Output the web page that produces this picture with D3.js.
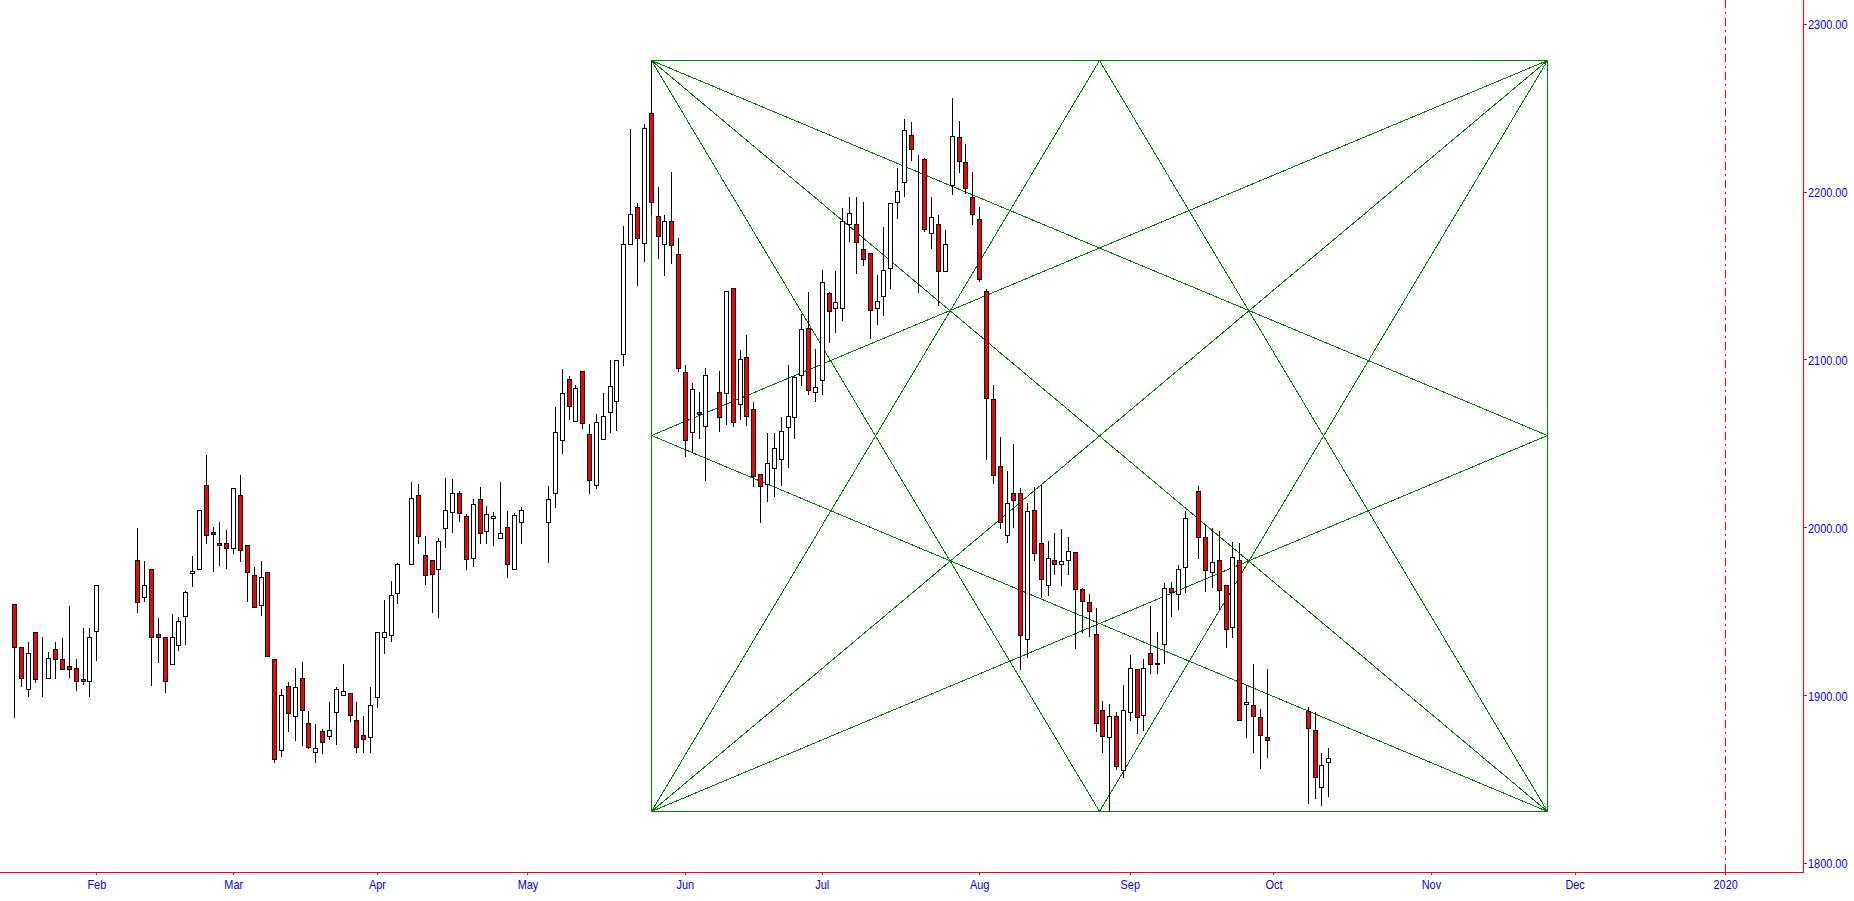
<!DOCTYPE html>
<html>
<head>
<meta charset="utf-8">
<script src="https://cdn.jsdelivr.net/npm/d3@7"></script>
<style>
  html, body { margin: 0; padding: 0; background: #fff; overflow: hidden; }
  svg text { font-family: "Liberation Sans", Arial, sans-serif; font-size: 13px; fill: #0000ff; }
</style>
</head>
<body>
<script>
// trading calendar
var firstDay = "2019-01-16", lastDay = "2019-10-11";
var holidays = ["2019-02-04", "2019-02-05", "2019-02-06", "2019-02-07", "2019-02-08",
  "2019-04-05", "2019-05-01", "2019-05-02", "2019-05-03", "2019-06-07", "2019-09-13",
  "2019-10-01", "2019-10-02", "2019-10-03", "2019-10-04", "2019-10-07"];

// daily prices, one entry per trading day
var open = [1954.1,1928.5,1903.5,1937.4,1903.5,1910.0,1927.3,1921.3,1917.2,1916.0,1909.4,1908.2,1938.0,
  1980.3,1958.3,1975.0,1936.2,1934.4,1918.4,1929.7,1947.0,1973.0,1975.0,2025.0,1997.0,1990.4,1990.4,
  1987.5,2019.0,1989.3,1971.4,1953.5,1973.2,1921.3,1867.1,1905.3,1887.4,1910.0,1883.2,1865.9,1878.4,
  1875.5,1889.8,1899.9,1901.1,1885.0,1876.1,1874.9,1898.7,1934.4,1935.6,1960.7,
  1978.0,2019.0,1983.3,1980.3,1975.0,1999.4,2008.9,2020.2,2006.5,1981.5,2016.7,1997.6,2005.3,1993.4,
  2000.0,1975.0,2003.0,
  2003.0,2020.2,2051.8,2088.2,2063.1,2092.9,2055.4,2025.0,2052.4,2068.5,2075.1,2103.1,2168.6,2190.6,
  2169.2,2246.6,2185.3,2168.6,2182.3,2162.6,2092.4,2056.6,2068.5,2060.2,
  2080.4,2079.8,2142.4,2073.3,2101.3,2070.3,2031.6,2025.6,2035.2,2040.5,2059.6,2065.5,2090.5,2118.5,
  2080.4,2087.6,2139.4,2130.5,2130.5,2180.5,2180.5,2165.6,2163.2,2130.5,2137.6,2154.3,2193.6,2205.5,
  2233.5,2219.2,2219.2,2175.1,2180.5,2152.5,2203.7,2232.3,2217.4,2196.6,2183.5,2141.0,2076.2,2036.3,
  1995.2,2020.2,2020.2,1933.2,2010.1,1990.4,1965.4,1980.3,1977.9,1980.3,1985.1,1963.0,1955.3,1936.2,
  1890.9,1874.9,1887.4,1855.2,1889.8,1915.4,1888.0,1924.9,1918.9,1930.3,1963.6,1960.0,1976.1,
  2021.4,1994.0,1973.2,1980.3,1965.4,1940.4,1980.3,1895.0,1893.9,1886.8,1874.9,
  1890.3,1879.0,1845.1,1860.0];
var high = [1954.1,1928.5,1932.3,1937.4,1935.2,1926.3,1932.3,1934.6,1953.7,1921.9,1940.6,1940.6,1965.4,
  2000.0,1980.3,1975.0,1946.6,1934.4,1949.0,1947.2,1962.4,1983.3,2010.1,2043.7,2000.6,2003.7,1998.8,
  2023.2,2031.7,1989.3,1976.7,1980.3,1973.2,1921.3,1904.1,1908.2,1916.6,1920.1,1891.0,1883.2,1880.2,
  1896.3,1905.3,1919.0,1901.1,1896.3,1888.0,1905.3,1937.4,1957.3,1968.4,1979.1,
  2027.4,2026.2,1995.2,1980.3,1994.0,2029.8,2029.2,2022.0,2008.3,2017.2,2024.4,2013.1,2009.5,2027.4,
  2010.1,2008.9,2012.5,
  2025.0,2072.1,2094.7,2090.5,2085.2,2092.9,2061.9,2067.9,2080.4,2100.1,2100.1,2179.9,2237.7,2193.6,
  2240.7,2278.4,2203.1,2186.5,2212.1,2172.8,2097.1,2086.4,2081.0,2095.3,
  2093.5,2140.6,2142.4,2106.1,2115.0,2075.1,2031.6,2056.6,2056.6,2066.1,2097.1,2091.2,2127.5,2140.6,
  2106.6,2153.7,2140.6,2153.1,2190.6,2197.2,2197.2,2194.2,2163.2,2150.7,2179.3,2193.0,2214.5,2243.7,
  2241.9,2222.2,2220.4,2197.2,2186.5,2177.5,2256.2,2242.5,2228.7,2212.1,2191.2,2142.4,2085.2,2054.4,
  2033.9,2050.0,2023.8,2014.9,2024.4,2025.6,1992.2,1997.0,1999.4,1994.6,1985.1,1964.2,1960.6,1952.3,
  1896.9,1895.1,1890.3,1906.4,1924.3,1916.0,1921.9,1953.5,1938.0,1967.2,1967.8,1977.9,2010.1,
  2025.0,2001.7,2000.0,1998.2,1965.4,1991.6,1991.0,1906.4,1918.9,1892.1,1916.0,
  1893.3,1890.3,1865.9,1868.9];
var low = [1886.8,1905.7,1899.7,1908.0,1899.7,1910.0,1910.4,1915.4,1911.0,1903.3,1906.4,1899.7,1921.1,
  1949.7,1956.3,1906.2,1920.0,1902.0,1918.4,1926.9,1930.3,1964.8,1975.0,1990.8,1974.2,1977.7,1976.0,
  1984.5,1980.1,1956.3,1952.3,1947.6,1923.1,1860.0,1863.6,1878.4,1873.1,1870.1,1868.3,1860.0,1865.3,
  1873.7,1870.7,1899.9,1884.4,1865.9,1865.9,1865.9,1892.7,1924.9,1932.1,1954.7,
  1978.0,1990.4,1966.0,1949.7,1946.8,1988.1,1997.0,2003.5,1975.0,1976.7,1990.4,1990.4,1989.3,1993.4,
  1970.2,1975.0,1990.4,
  1979.5,2012.3,2044.1,2064.4,2063.1,2059.0,2020.2,2023.2,2052.4,2056.6,2057.8,2096.5,2168.6,2144.2,
  2158.5,2186.5,2160.2,2150.1,2157.3,2092.9,2042.3,2044.7,2053.0,2028.0,
  2057.2,2061.4,2060.2,2064.4,2060.8,2024.4,2003.4,2015.5,2018.5,2025.0,2036.2,2053.0,2084.6,2079.2,
  2075.1,2079.2,2110.2,2116.2,2123.3,2170.4,2151.3,2156.1,2112.6,2120.9,2126.3,2142.4,2184.1,2197.2,
  2218.6,2140.0,2176.3,2166.2,2132.2,2152.5,2198.4,2211.5,2199.0,2180.5,2146.5,2040.5,2026.2,1999.8,
  1991.0,2000.4,1915.4,1922.5,1980.3,1958.3,1959.5,1972.0,1965.4,1972.0,1927.9,1937.4,1935.0,1878.4,
  1865.9,1831.0,1855.8,1851.0,1885.0,1877.2,1879.0,1913.0,1913.0,1918.9,1946.9,1951.1,1961.2,
  1981.5,1961.8,1964.2,1951.1,1928.5,1934.4,1885.0,1874.9,1865.9,1856.4,1862.9,
  1835.9,1838.9,1834.7,1840.1];
var close = [1928.5,1910.0,1924.9,1909.4,1903.5,1921.9,1921.3,1915.4,1915.4,1908.2,1908.2,1934.4,1965.4,
  1955.3,1965.4,1934.4,1934.4,1908.2,1934.4,1944.0,1961.3,1974.0,2010.1,1995.2,1995.8,1989.3,1987.5,
  2023.2,1986.3,1973.2,1952.3,1970.2,1923.1,1861.8,1899.9,1889.2,1904.7,1891.0,1868.9,1868.3,1871.9,
  1879.0,1903.5,1902.3,1888.0,1868.9,1873.7,1894.0,1937.4,1937.4,1959.5,1978.0,
  2017.2,1994.6,1971.4,1972.0,1991.6,2010.1,2020.2,2008.3,1980.9,2013.7,1996.4,2007.7,2006.5,1996.4,
  1978.0,2007.1,2010.1,
  2016.7,2056.6,2079.8,2072.1,2082.8,2061.9,2028.0,2062.5,2066.1,2084.0,2099.5,2168.6,2186.5,2172.2,
  2237.7,2193.6,2173.3,2182.3,2168.0,2094.7,2051.8,2082.2,2067.3,2090.5,
  2065.5,2140.6,2062.5,2100.1,2066.1,2030.4,2024.4,2038.1,2047.1,2057.2,2066.1,2089.3,2117.9,2081.6,
  2083.4,2146.0,2128.7,2134.1,2182.3,2187.1,2169.8,2159.7,2129.3,2134.6,2153.1,2193.0,2200.2,2236.5,
  2225.2,2219.2,2177.5,2184.7,2152.5,2168.6,2232.9,2218.0,2201.9,2186.5,2147.7,2076.8,2031.1,2002.9,
  2014.3,2016.0,1935.6,2009.5,1984.5,1969.0,1981.5,1977.9,1979.7,1985.7,1963.0,1955.9,1949.9,1883.2,
  1875.5,1887.4,1857.6,1890.9,1916.0,1886.8,1916.0,1918.3,1918.3,1963.6,1961.2,1974.9,2005.3,
  1994.0,1974.3,1979.1,1962.4,1939.2,1982.1,1885.0,1896.0,1887.4,1876.1,1873.1,
  1880.2,1851.0,1858.2,1862.4];

// axes
var monthTickDates = ["2019-02-01", "2019-03-01", "2019-04-01", "2019-05-01", "2019-06-03", "2019-07-01",
  "2019-08-01", "2019-09-02", "2019-10-01", "2019-11-01", "2019-12-02", "2020-01-01"];
var monthTickLabels = ["Feb", "Mar", "Apr", "May", "Jun", "Jul", "Aug", "Sep", "Oct", "Nov", "Dec", "2020"];
var priceTicks = [1800, 1900, 2000, 2100, 2200, 2300];
var yearMarkDate = "2020-01-01";

// gann box: from the May high to the August low
var boxDates = ["2019-05-27", "2019-11-26"];
var boxPrices = [2278.4, 1831.0];

var W = 1854, H = 901,
    plotRight = 1803, plotBottom = 872;

var parse = d3.utcParse("%Y-%m-%d"),
    fmt = d3.utcFormat("%Y-%m-%d"),
    origin = parse("2019-01-01");

function isWeekday(d) { var w = d.getUTCDay(); return w !== 0 && w !== 6; }
// weekday slot counted from 2019-01-01, the x axis skips weekends only
function slot(s) { return d3.utcDays(origin, parse(s)).filter(isWeekday).length; }

var days = d3.utcDays(parse(firstDay), d3.utcDay.offset(parse(lastDay), 1))
  .filter(function(d) { return isWeekday(d) && holidays.indexOf(fmt(d)) < 0; })
  .map(fmt);

var data = days.map(function(d, i) {
  return {date: d, slot: slot(d), o: open[i], h: high[i], l: low[i], c: close[i]};
});

var svg = d3.select("body").append("svg")
    .attr("width", W)
    .attr("height", H)
    .style("display", "block");

var x = d3.scaleLinear()
    .domain([8.93, 272.37])
    .range([0, plotRight]);

var y = d3.scaleLinear()
    .domain([1800, 2300])
    .range([863, 23.7]);

function px(v) { return Math.round(v) + 0.5; }

// year marker
var xm = px(x(slot(yearMarkDate)));
svg.append("line")
    .attr("x1", xm).attr("x2", xm)
    .attr("y1", 0).attr("y2", plotBottom)
    .attr("stroke", "#ff0000")
    .attr("stroke-width", 1)
    .attr("stroke-dasharray", "8,4,2,4")
    .attr("shape-rendering", "crispEdges");

// gann box and its fan lines
var bx0 = x(slot(boxDates[0])), bx1 = x(slot(boxDates[1])),
    by0 = y(boxPrices[0]), by1 = y(boxPrices[1]),
    bxm = (bx0 + bx1) / 2, bym = (by0 + by1) / 2;
var TL = [bx0, by0], TR = [bx1, by0], BL = [bx0, by1], BR = [bx1, by1],
    LM = [bx0, bym], RM = [bx1, bym], TM = [bxm, by0], BM = [bxm, by1];
var gannLines = [
  [TL, TR], [TR, BR], [BR, BL], [BL, TL],
  [TL, BR], [BL, TR],
  [TL, RM], [BL, RM], [TR, LM], [BR, LM],
  [TM, BL], [TM, BR], [BM, TL], [BM, TR]
];
svg.append("g")
    .attr("class", "gann")
  .selectAll("line")
    .data(gannLines)
  .enter().append("line")
    .attr("x1", function(d) { return px(d[0][0]); })
    .attr("y1", function(d) { return px(d[0][1]); })
    .attr("x2", function(d) { return px(d[1][0]); })
    .attr("y2", function(d) { return px(d[1][1]); })
    .attr("stroke", "#008000")
    .attr("stroke-width", 1)
    .attr("shape-rendering", "crispEdges");

// candles
var candle = svg.append("g")
    .attr("class", "candles")
    .attr("shape-rendering", "crispEdges")
  .selectAll("g")
    .data(data)
  .enter().append("g");

candle.append("line")
    .attr("x1", function(d) { return px(x(d.slot)); })
    .attr("x2", function(d) { return px(x(d.slot)); })
    .attr("y1", function(d) { return px(y(d.h)); })
    .attr("y2", function(d) { return px(y(d.l)); })
    .attr("stroke", "#000");

candle.append("rect")
    .attr("x", function(d) { return Math.round(x(d.slot)) - 1.5; })
    .attr("width", 4)
    .attr("y", function(d) { return px(y(Math.max(d.o, d.c))); })
    .attr("height", function(d) { return px(y(Math.min(d.o, d.c))) - px(y(Math.max(d.o, d.c))); })
    .attr("fill", function(d) { return d.c < d.o ? "#ff0000" : "#ffffff"; })
    .attr("stroke", "#000")
    .attr("stroke-width", 1);

// axes
var xAxis = d3.axisBottom(x)
    .tickValues(monthTickDates.map(slot))
    .tickFormat(function(d, i) { return monthTickLabels[i]; })
    .tickSize(3)
    .tickSizeOuter(0)
    .tickPadding(5);

var gx = svg.append("g")
    .attr("transform", "translate(0," + plotBottom + ")")
    .call(xAxis);

var yAxis = d3.axisRight(y)
    .tickValues(priceTicks)
    .tickFormat(d3.format(".2f"))
    .tickSize(4)
    .tickSizeOuter(0)
    .tickPadding(1);

var gy = svg.append("g")
    .attr("transform", "translate(" + plotRight + ",0)")
    .call(yAxis);

gx.select(".domain").remove();
gy.select(".domain").remove();
svg.selectAll(".tick line").attr("stroke", "#ff0000").attr("shape-rendering", "crispEdges");
svg.selectAll(".tick text")
    .attr("fill", "#0000ff")
    .attr("font-family", null)
    .attr("font-size", null);
gy.selectAll(".tick text").attr("dy", "0.38em");

// narrow the labels the way the original's condensed font looks
svg.selectAll(".tick text").each(function() {
  var len = this.getComputedTextLength();
  d3.select(this)
      .attr("textLength", (len * 0.84).toFixed(1))
      .attr("lengthAdjust", "spacingAndGlyphs");
});

svg.append("path")
    .attr("d", "M0," + (plotBottom + 0.5) + "H" + (plotRight + 0.5) + "V0")
    .attr("fill", "none")
    .attr("stroke", "#ff0000")
    .attr("stroke-width", 1)
    .attr("shape-rendering", "crispEdges");
</script>
</body>
</html>
